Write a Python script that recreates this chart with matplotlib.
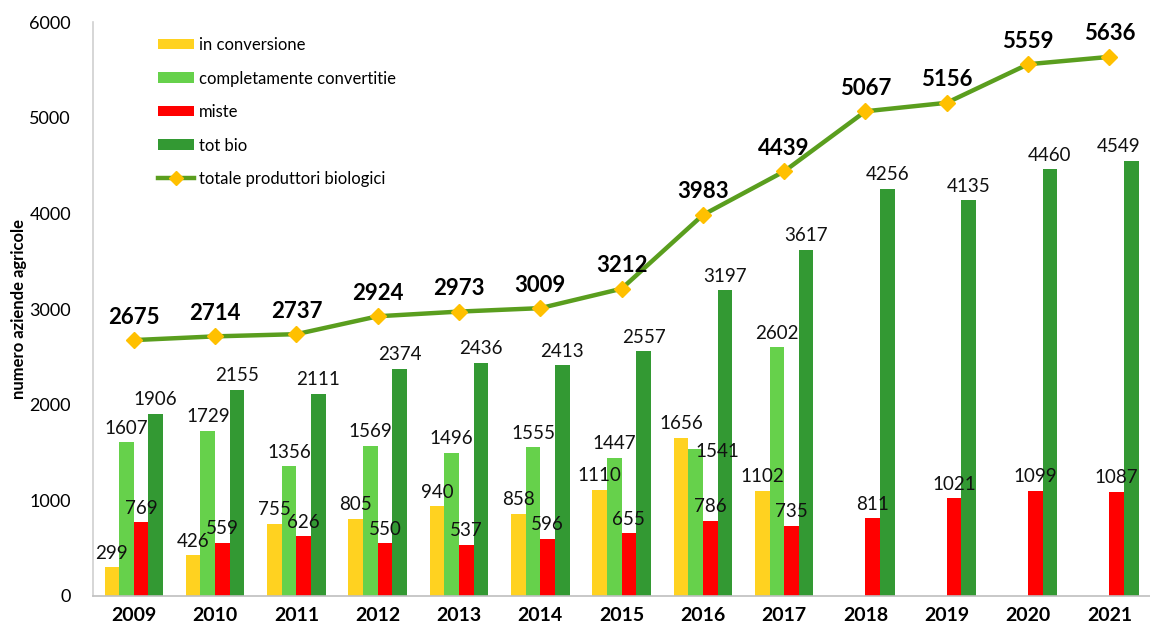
import numpy as np
import matplotlib
matplotlib.use("Agg")
import matplotlib.pyplot as plt
from matplotlib.lines import Line2D
from matplotlib.patches import Patch

plt.rcParams['font.family'] = ['Lato', 'DejaVu Sans']

years = ["2009", "2010", "2011", "2012", "2013", "2014", "2015",
         "2016", "2017", "2018", "2019", "2020", "2021"]
in_conversione = [299, 426, 755, 805, 940, 858, 1110, 1656, 1102,
                  None, None, None, None]
convertite = [1607, 1729, 1356, 1569, 1496, 1555, 1447, 1541, 2602,
              None, None, None, None]
miste = [769, 559, 626, 550, 537, 596, 655, 786, 735, 811, 1021, 1099, 1087]
tot_bio = [1906, 2155, 2111, 2374, 2436, 2413, 2557, 3197, 3617,
           4256, 4135, 4460, 4549]
totale = [2675, 2714, 2737, 2924, 2973, 3009, 3212, 3983, 4439,
          5067, 5156, 5559, 5636]

c_yellow = "#FFD220"
c_light = "#66D14B"
c_red = "#FF0000"
c_dark = "#339933"
c_line = "#5A9E1E"
c_marker = "#FFC000"

fig = plt.figure(figsize=(11.5, 6.3), dpi=100)
ax = fig.add_axes([0.081, 0.054, 0.919, 0.911])

x = np.arange(len(years))
w = 0.18
series = [(in_conversione, c_yellow, "in conversione"),
          (convertite, c_light, "completamente convertitie"),
          (miste, c_red, "miste"),
          (tot_bio, c_dark, "tot bio")]

# labels that excel pushed aside (series index, year index) -> offset in points
nudges = {(1, 7): (16, -8), (3, 12): (-9, 4)}

for i, (vals, col, lab) in enumerate(series):
    offs = (i - 1.5) * w
    for xi, v in zip(x, vals):
        if v is None:
            continue
        ax.bar(xi + offs, v, width=w, color=col)
        ax.annotate(str(v), (xi + offs, v), xytext=nudges.get((i, xi), (0, 4)),
                    textcoords="offset points", ha="center", va="bottom",
                    fontsize=13.5, color="#111111")

ax.plot(x, totale, color=c_line, linewidth=3.2, marker="D",
        markersize=8, markerfacecolor=c_marker, markeredgecolor=c_marker)
for xi, v in zip(x, totale):
    ax.annotate(str(v), (xi, v), xytext=(0, 9), textcoords="offset points",
                ha="center", va="bottom", fontsize=16, fontweight="bold")

ax.set_xlim(-0.5, len(years) - 0.5)
ax.set_ylim(0, 6000)
ax.set_yticks(range(0, 6001, 1000))
ax.set_xticks(x)
ax.set_xticklabels(years, fontweight="bold", fontsize=14)
ax.tick_params(axis="y", labelsize=13, length=0, pad=16)
ax.tick_params(axis="x", length=0, pad=8)
ax.set_ylabel("numero aziende agricole", fontweight="bold", fontsize=12,
              labelpad=2)
for s in ["top", "right"]:
    ax.spines[s].set_visible(False)
ax.spines["left"].set_color("#D0D0D0")
ax.spines["bottom"].set_color("#BFBFBF")
ax.spines["left"].set_linewidth(1.2)
ax.spines["bottom"].set_linewidth(1.2)

handles = [Patch(facecolor=c, edgecolor="none", label=l) for _, c, l in series]
handles.append(Line2D([], [], color=c_line, linewidth=3.2, marker="D",
                      markersize=7, markerfacecolor=c_marker,
                      markeredgecolor=c_marker,
                      label="totale produttori biologici"))
ax.legend(handles=handles, loc="upper left", bbox_to_anchor=(0.047, 1.0),
          frameon=False, fontsize=12, labelspacing=1.05, handlelength=2.2,
          handleheight=0.6, handletextpad=0.25)

fig.savefig("out.png", dpi=100)
